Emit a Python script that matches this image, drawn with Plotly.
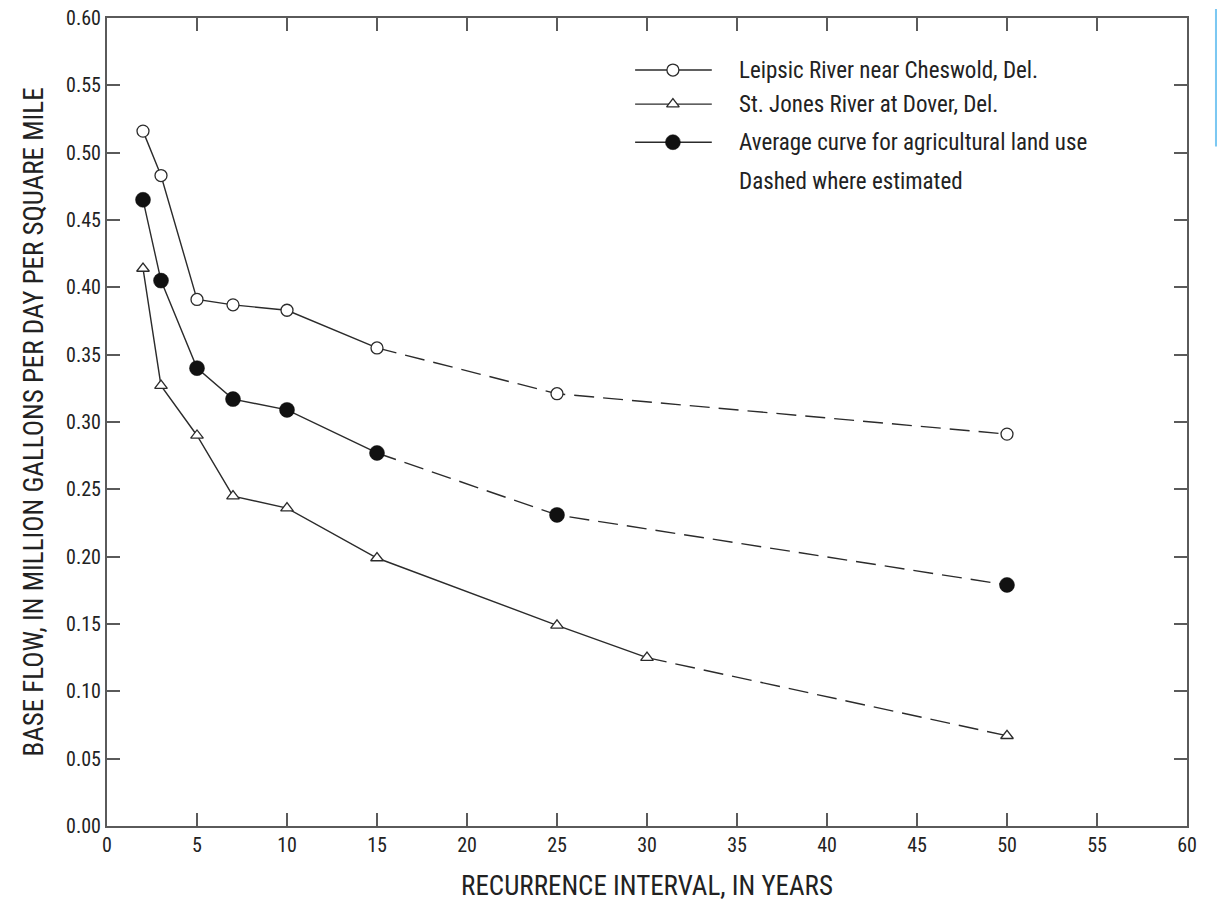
import plotly.graph_objects as go

# ---- data ----
leipsic_x = [2, 3, 5, 7, 10, 15, 25, 50]
leipsic_y = [0.516, 0.483, 0.391, 0.387, 0.383, 0.355, 0.321, 0.291]
leipsic_solid_end = 5  # index of last point on solid segment (x=15)

stjones_x = [2, 3, 5, 7, 10, 15, 25, 30, 50]
stjones_y = [0.414, 0.327, 0.290, 0.245, 0.236, 0.199, 0.149, 0.125, 0.067]
stjones_solid_end = 7  # x=30

average_x = [2, 3, 5, 7, 10, 15, 25, 50]
average_y = [0.465, 0.405, 0.340, 0.317, 0.309, 0.277, 0.231, 0.179]
average_solid_end = 5  # x=15

names = ["Leipsic River near Cheswold, Del.",
         "St. Jones River at Dover, Del.",
         "Average curve for agricultural land use"]
note = "Dashed where estimated"

x_title = "RECURRENCE INTERVAL, IN YEARS"
y_title = "BASE FLOW, IN MILLION GALLONS PER DAY PER SQUARE MILE"

FONT = "Liberation Sans Narrow, Arial Narrow, Roboto Condensed, sans-serif"
LINE = "#2b2b2b"
AXIS = "#5a5a5a"
TXT = "#222222"
DASH = "20px,9px"

series = [
    (leipsic_x, leipsic_y, leipsic_solid_end,
     dict(symbol="circle", size=12, color="white", line=dict(color=LINE, width=1.3))),
    (stjones_x, stjones_y, stjones_solid_end,
     dict(symbol="triangle-up", size=11, color="white", line=dict(color=LINE, width=1.3))),
    (average_x, average_y, average_solid_end,
     dict(symbol="circle", size=15, color="#111111", line=dict(color="#111111", width=0.5))),
]

fig = go.Figure()

for xs, ys, k, mk in series:
    fig.add_trace(go.Scatter(x=xs[:k + 1], y=ys[:k + 1], mode="lines",
                             line=dict(color=LINE, width=1.4), showlegend=False,
                             hoverinfo="skip"))
    fig.add_trace(go.Scatter(x=xs[k:], y=ys[k:], mode="lines",
                             line=dict(color=LINE, width=1.4, dash=DASH),
                             showlegend=False, hoverinfo="skip"))
for (xs, ys, k, mk), nm in zip(series, names):
    fig.add_trace(go.Scatter(x=xs, y=ys, mode="markers", marker=mk,
                             name=nm, showlegend=False))

# ---- manual legend on an overlay axis (0..1 paper-like coordinates) ----
leg_x = [0.489, 0.560]
leg_mid = 0.524
leg_rows = [0.9356, 0.8934, 0.8463]
for (xs, ys, k, mk), row, nm in zip(series, leg_rows, names):
    fig.add_trace(go.Scatter(x=leg_x, y=[row] * 2, mode="lines",
                             line=dict(color=LINE, width=1.4),
                             xaxis="x2", yaxis="y2", showlegend=False,
                             hoverinfo="skip"))
    fig.add_trace(go.Scatter(x=[leg_mid], y=[row], mode="markers", marker=mk,
                             xaxis="x2", yaxis="y2", showlegend=False,
                             hoverinfo="skip"))
    fig.add_annotation(x=0.583, y=row, xref="x2", yref="y2", text=nm,
                       showarrow=False, xanchor="left", yanchor="middle",
                       font=dict(family=FONT, size=23, color=TXT))
fig.add_annotation(x=0.583, y=0.798, xref="x2", yref="y2", text=note,
                   showarrow=False, xanchor="left", yanchor="middle",
                   font=dict(family=FONT, size=23, color=TXT))

# light blue strip at right edge (as in reference)
fig.add_shape(type="rect", xref="paper", yref="paper",
              x0=1.0259, x1=1.0305, y0=0.841, y1=1.011,
              fillcolor="#7cc8f2", line=dict(width=0), layer="above")

axis_common = dict(showgrid=False, zeroline=False, showline=True,
                   linecolor=AXIS, linewidth=2, mirror="ticks",
                   ticks="inside", ticklen=13, tickwidth=1.6, tickcolor=AXIS,
                   automargin=False,
                   tickfont=dict(family=FONT, size=20, color=TXT))

fig.update_layout(
    width=1217, height=904,
    paper_bgcolor="white", plot_bgcolor="white",
    margin=dict(l=107, r=30, t=18, b=78),
    showlegend=False,
    xaxis=dict(range=[0, 60], tickmode="linear", tick0=0, dtick=5,
               title=dict(text=x_title, standoff=20,
                          font=dict(family=FONT, size=27, color=TXT)),
               **axis_common),
    yaxis=dict(range=[0, 0.60], tickmode="linear", tick0=0, dtick=0.05,
               tickformat=".2f",
               title=dict(text=y_title, standoff=15,
                          font=dict(family=FONT, size=27, color=TXT)),
               **axis_common),
    xaxis2=dict(range=[0, 1], overlaying="x", visible=False),
    yaxis2=dict(range=[0, 1], overlaying="y", visible=False),
)

fig.write_html("out.html",
               config={"displayModeBar": False},
               post_script="document.body.style.margin='0px';")
